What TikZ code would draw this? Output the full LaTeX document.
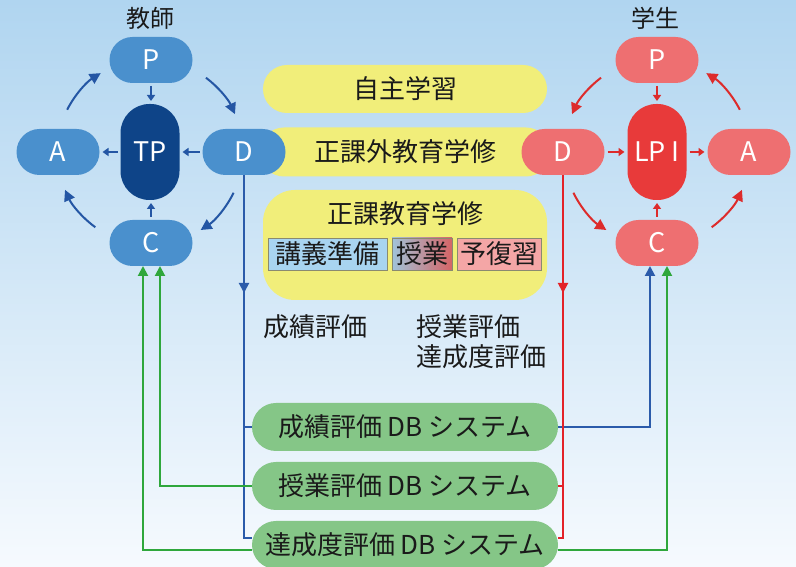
\documentclass[tikz,border=0pt]{standalone}
\usepackage{fontspec}
\setmainfont{Noto Sans CJK JP}
\usetikzlibrary{arrows.meta,calc}
\definecolor{bgtop}{HTML}{B0D5F0}
\definecolor{bgbot}{HTML}{F6FAFE}
\definecolor{tblue}{HTML}{4A90CD}
\definecolor{tdark}{HTML}{0E4488}
\definecolor{sred}{HTML}{EE6F71}
\definecolor{sdark}{HTML}{E83A3A}
\definecolor{yel}{HTML}{F1EE7A}
\definecolor{dbgreen}{HTML}{85C687}
\definecolor{tarrow}{HTML}{2456A4}
\definecolor{sarrow}{HTML}{DD2B2B}
\definecolor{bluel}{HTML}{2B5BAA}
\definecolor{redl}{HTML}{E32228}
\definecolor{greenl}{HTML}{2FA73C}
\definecolor{subblue}{HTML}{A8D4F0}
\definecolor{subpink}{HTML}{F4A6A6}
\definecolor{subedge}{HTML}{8A8A70}
\definecolor{txt}{HTML}{1A1A1A}
\pgfdeclarelayer{bgl}
\pgfdeclarelayer{linel}
\pgfsetlayers{bgl,linel,main}
\begin{document}
\begin{tikzpicture}[x=1pt,y=1pt,
  every node/.style={inner sep=0pt,outer sep=0pt},
  bigfont/.style={font=\fontsize{26}{30}\selectfont},
  lbl/.style={bigfont,text=txt},
  pdca/.style={rounded corners=23pt,minimum width=83pt,minimum height=46pt,text=white,font=\fontsize{27}{30}\selectfont},
  tnode/.style={pdca,fill=tblue},
  snode/.style={pdca,fill=sred},
  corebox/.style={rounded corners=29pt,minimum width=59pt,minimum height=96pt,text=white,font=\fontsize{27}{30}\selectfont},
  ybox/.style={lbl,fill=yel,rounded corners=24pt,minimum width=284pt,minimum height=48pt},
  subbox/.style={lbl,draw=subedge,line width=0.8pt,minimum height=32pt},
  dbbox/.style={lbl,fill=dbgreen,rounded corners=24pt,minimum width=306pt,minimum height=48pt},
  tarc/.style={draw=tarrow,line width=2pt,-{Triangle[length=11pt,width=11pt]}},
  sarc/.style={draw=sarrow,line width=2pt,-{Triangle[length=11pt,width=11pt]}},
  tshort/.style={draw=tarrow,line width=1.5pt,-{Triangle[length=6pt,width=8pt]},shorten <=3pt,shorten >=3pt},
  sshort/.style={draw=sarrow,line width=1.5pt,-{Triangle[length=6pt,width=8pt]},shorten <=3pt,shorten >=3pt},
  bline/.style={draw=bluel,line width=2pt},
  rline/.style={draw=redl,line width=2pt},
  gline/.style={draw=greenl,line width=2pt},
  tipc/.style={-{Triangle[length=10pt,width=10pt]}}
]
\useasboundingbox (0,0) rectangle (796,567);
\begin{pgfonlayer}{bgl}
\fill[top color=bgtop,bottom color=bgbot] (0,0) rectangle (796,567);
\end{pgfonlayer}

% yellow areas
\node[ybox] (jishu) at (405,478) {自主学習};
\node[ybox,minimum width=290pt,minimum height=49pt] (seikagai) at (405,415) {正課外教育学修};
\node[ybox,minimum height=110pt,rounded corners=32pt] (seika) at (405,322) {};
\node[lbl] (seikat) at (405,353) {正課教育学修};
\node[subbox,fill=subblue,minimum width=119pt] (sb1) at (327.5,313) {講義準備};
\node[subbox,left color=subblue!80!gray,right color=sred!90!black,minimum width=60pt] (sb2) at (422,313) {授業};
\node[subbox,fill=subpink,minimum width=84pt] (sb3) at (499,313) {予復習};

% teacher
\node[lbl,font=\fontsize{24}{28}\selectfont] (tlab) at (150,549) {教師};
\node[tnode] (tP) at (151,507) {P};
\node[corebox,fill=tdark] (tTP) at (150,415) {TP};
\node[tnode] (tA) at (58,415) {A};
\node[tnode] (tD) at (244,415) {D};
\node[tnode] (tC) at (151,324) {C};
\draw[tshort] (tP.south) -- (tP.south |- tTP.north);
\draw[tshort] (tD.west) -- (tTP.east);
\draw[tshort] (tTP.west) -- (tA.east);
\draw[tshort] (tC.north) -- (tC.north |- tTP.south);
\draw[tarc] ([shift={(153:93)}]tTP.center) arc[start angle=153,end angle=122,radius=93];
\draw[tarc] ([shift={(53:93)}]tTP.center) arc[start angle=53,end angle=24,radius=93];
\draw[tarc] ([shift={(-26:93)}]tTP.center) arc[start angle=-26,end angle=-57,radius=93];
\draw[tarc] ([shift={(234:93)}]tTP.center) arc[start angle=234,end angle=204,radius=93];

% student
\node[lbl,font=\fontsize{24}{28}\selectfont] (slab) at (655,549) {学生};
\node[snode] (sP) at (657,507) {P};
\node[corebox,fill=sdark] (sLP) at (657,415) {LP I};
\node[snode] (sD) at (563,415) {D};
\node[snode] (sA) at (749,415) {A};
\node[snode] (sC) at (657,324) {C};
\draw[sshort] (sP.south) -- (sP.south |- sLP.north);
\draw[sshort] (sD.east) -- (sLP.west);
\draw[sshort] (sLP.east) -- (sA.west);
\draw[sshort] (sC.north) -- (sC.north |- sLP.south);
\draw[sarc] ([shift={(27:93)}]sLP.center) arc[start angle=27,end angle=58,radius=93];
\draw[sarc] ([shift={(127:93)}]sLP.center) arc[start angle=127,end angle=156,radius=93];
\draw[sarc] ([shift={(206:93)}]sLP.center) arc[start angle=206,end angle=237,radius=93];
\draw[sarc] ([shift={(306:93)}]sLP.center) arc[start angle=306,end angle=336,radius=93];

% evaluation labels
\node[lbl] (ev1) at (315,240) {成績評価};
\node[lbl,anchor=west] (ev2) at (416,240) {授業評価};
\node[lbl,anchor=west] (ev3) at (416,210) {達成度評価};

% DB systems
\node[dbbox] (db1) at (405,140) {成績評価 DB システム};
\node[dbbox] (db2) at (405,81) {授業評価 DB システム};
\node[dbbox] (db3) at (405,22) {達成度評価 DB システム};

\coordinate (bl1) at ($(tD.south |- 0,29)$);
\coordinate (rl1) at ($(sD.south |- 0,29)$);
\coordinate (gl1) at ($(db3.west |- 0,17)$);
\coordinate (gr1) at ($(db3.east |- 0,17)$);

\begin{pgfonlayer}{linel}
% blue
\draw[bline] (tD.south) -- (bl1) -- (bl1 -| db3.west);
\draw[bline,tipc] (tD.south) -- ($(tD.south |- 0,274)$);
\draw[bline] (tD.south |- db1.west) -- (db1.west);
\draw[bline,tipc] (db1.east) -| ([xshift=-7pt]sC.south);
% red
\draw[rline] (sD.south) -- (rl1) -- (rl1 -| db3.east);
\draw[rline,tipc] (sD.south) -- ($(sD.south |- 0,274)$);
\draw[rline] (sD.south |- db2.east) -- (db2.east);
% green
\draw[gline,tipc] (db2.west) -| ([xshift=9pt]tC.south);
\draw[gline,tipc] (gl1) -| ([xshift=-8pt]tC.south);
\draw[gline,tipc] (gr1) -| ([xshift=10pt]sC.south);
\end{pgfonlayer}
\end{tikzpicture}
\end{document}
